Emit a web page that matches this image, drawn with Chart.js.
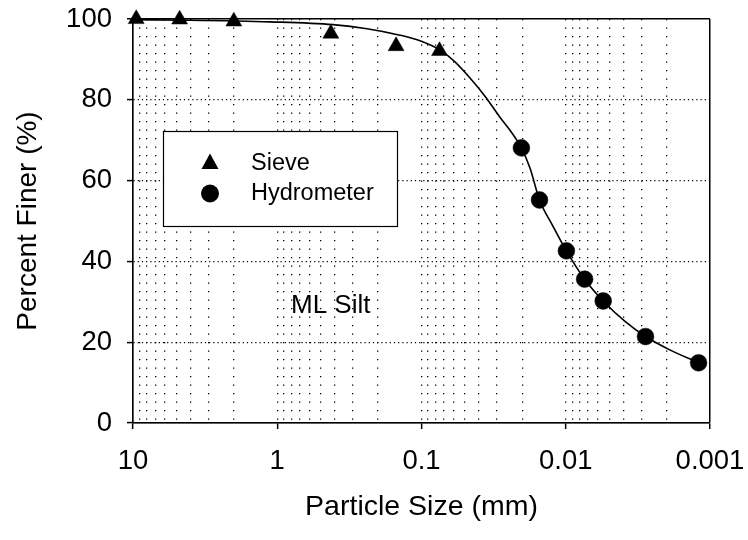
<!DOCTYPE html>
<html>
<head>
<meta charset="utf-8">
<script src="https://cdn.jsdelivr.net/npm/chart.js@4.4.1/dist/chart.umd.min.js"></script>
<style>
  html, body { margin: 0; padding: 0; background: #ffffff; }
  #wrap { width: 748px; height: 540px; }
</style>
</head>
<body>
<div id="wrap"><canvas id="c" width="748" height="540"></canvas></div>
<script>
// ---- data ----
const sieveSize = [9.5, 4.75, 2.0, 0.425, 0.15, 0.075];
const sievePercent = [100, 99.9, 99.4, 96.4, 93.3, 92.1];

const hydroSize = [0.0203, 0.0152, 0.0099, 0.0074, 0.0055, 0.0028, 0.0012];
const hydroPercent = [68.1, 55.2, 42.6, 35.6, 30.2, 21.4, 14.9];

// fitted gradation curve
const curveSize = [10, 4, 1.12, 0.411, 0.2385, 0.141, 0.1024, 0.0744, 0.0586, 0.0461, 0.0363, 0.0286, 0.0236, 0.0203, 0.0177, 0.0152, 0.0123, 0.0099, 0.0074, 0.0055, 0.0039, 0.0028, 0.0019, 0.0012];
const curvePercent = [99.8, 99.7, 99.3, 98.6, 97.6, 96.0, 94.6, 92.3, 89.4, 85.4, 80.9, 75.7, 71.8, 68.1, 63.1, 55.2, 48.8, 42.6, 35.6, 30.2, 25.2, 21.4, 18.1, 14.9];

const xMajorTicks = [10, 1, 0.1, 0.01, 0.001];
const yTickValues = [0, 20, 40, 60, 80, 100];
const legendLabels = ['Sieve', 'Hydrometer'];
const noteText = 'ML Silt';
const xTitle = 'Particle Size (mm)';
const yTitle = 'Percent Finer (%)';

const FONT = '"Liberation Sans", Arial, Helvetica, sans-serif';

// gridline positions for the log axis: each decade plus its 2..9 multiples
const xGridTicks = [];
xMajorTicks.forEach(m => {
  xGridTicks.push(m);
  if (m < 10) for (let k = 2; k <= 9; k++) xGridTicks.push(+(m * k).toPrecision(6));
});
xGridTicks.sort((a, b) => b - a);
const isMajor = v => xMajorTicks.some(m => Math.abs(m - v) < m * 1e-6);

const toPts = (xs, ys) => xs.map((x, i) => ({ x: x, y: ys[i] }));

const overlay = {
  id: 'overlay',
  afterDraw(chart) {
    const ctx = chart.ctx;
    ctx.save();
    // legend box
    ctx.fillStyle = '#ffffff';
    ctx.fillRect(163, 131, 234, 95);
    ctx.strokeStyle = '#000000';
    ctx.lineWidth = 1.2;
    ctx.strokeRect(163.5, 131.5, 234, 95);
    // symbols
    ctx.fillStyle = '#000000';
    ctx.beginPath();
    ctx.moveTo(210, 153.5);
    ctx.lineTo(218.5, 169);
    ctx.lineTo(201.5, 169);
    ctx.closePath();
    ctx.fill();
    ctx.beginPath();
    ctx.arc(210, 193.5, 9, 0, Math.PI * 2);
    ctx.fill();
    // texts
    ctx.font = '23.5px ' + FONT;
    ctx.textBaseline = 'middle';
    ctx.textAlign = 'left';
    ctx.fillText(legendLabels[0], 251, 163.5);
    ctx.fillText(legendLabels[1], 251, 193.5);
    ctx.font = '26px ' + FONT;
    ctx.fillText(noteText, 291, 305.5);
    ctx.restore();
  }
};

new Chart(document.getElementById('c'), {
  type: 'scatter',
  data: {
    datasets: [
      {
        label: 'curve',
        data: toPts(curveSize, curvePercent),
        showLine: true,
        borderColor: '#000000',
        borderWidth: 1.6,
        pointRadius: 0,
        cubicInterpolationMode: 'monotone',
        fill: false,
        clip: false,
        order: 3
      },
      {
        label: legendLabels[0],
        data: toPts(sieveSize, sievePercent),
        pointStyle: 'triangle',
        pointRadius: 9.2,
        pointBackgroundColor: '#000000',
        pointBorderColor: '#000000',
        pointBorderWidth: 0.5,
        showLine: false,
        clip: false,
        order: 1
      },
      {
        label: legendLabels[1],
        data: toPts(hydroSize, hydroPercent),
        pointStyle: 'circle',
        pointRadius: 8.4,
        pointBackgroundColor: '#000000',
        pointBorderColor: '#000000',
        pointBorderWidth: 0.5,
        showLine: false,
        clip: false,
        order: 1
      }
    ]
  },
  options: {
    responsive: false,
    animation: false,
    devicePixelRatio: 1,
    layout: { autoPadding: false, padding: { top: 19, right: 38, bottom: 0, left: 0 } },
    plugins: { legend: { display: false }, tooltip: { enabled: false } },
    scales: {
      x: {
        type: 'logarithmic',
        reverse: true,
        min: 0.001,
        max: 10,
        afterBuildTicks: s => { s.ticks = xGridTicks.map(v => ({ value: v })); },
        afterFit: s => { s.height = 117; s.paddingLeft = 0; s.paddingRight = 0; },
        ticks: {
          autoSkip: false,
          maxRotation: 0,
          minRotation: 0,
          padding: 16,
          color: '#000000',
          font: { family: FONT, size: 27.5 },
          major: { enabled: false },
          callback: v => (isMajor(v) ? String(v) : '')
        },
        grid: {
          color: '#000000',
          lineWidth: c => (c.tick && (c.tick.value === 0.001) ? 1.5 : 1.3),
          tickLength: 6,
          tickWidth: 1.5,
          tickColor: c => (c.tick && isMajor(c.tick.value) ? '#000000' : 'rgba(0,0,0,0)')
        },
        border: {
          display: true,
          color: '#000000',
          width: 1.5,
          dash: c => (c.tick && (c.tick.value === 0.001 || c.tick.value === 10) ? [] : [1.3, 7.2])
        },
        title: {
          display: true,
          text: xTitle,
          color: '#000000',
          font: { family: FONT, size: 28.5 },
          padding: { top: 0, bottom: 16 }
        }
      },
      y: {
        min: 0,
        max: 100,
        afterBuildTicks: s => { s.ticks = yTickValues.map(v => ({ value: v })); },
        afterFit: s => { s.width = 133; s.paddingTop = 0; s.paddingBottom = 0; },
        ticks: {
          padding: 15,
          color: '#000000',
          font: { family: FONT, size: 27.5 }
        },
        grid: {
          color: '#000000',
          lineWidth: c => (c.tick && c.tick.value === 100 ? 1.5 : 1.2),
          tickLength: 6,
          tickWidth: 1.5,
          tickColor: '#000000'
        },
        border: {
          display: true,
          color: '#000000',
          width: 1.5,
          dash: c => (c.tick && (c.tick.value === 0 || c.tick.value === 100) ? [] : [1.2, 3])
        },
        title: {
          display: true,
          text: yTitle,
          color: '#000000',
          font: { family: FONT, size: 28 },
          padding: { top: 11, bottom: 0 }
        }
      }
    }
  },
  plugins: [overlay]
});
</script>
</body>
</html>
